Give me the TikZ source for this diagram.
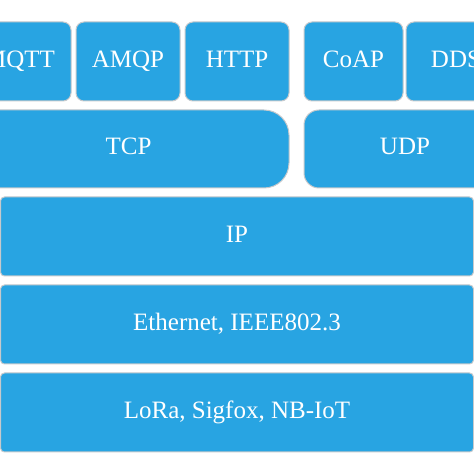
\documentclass[tikz,border=0pt]{standalone}
\usepackage{fontspec}
\setmainfont{Liberation Serif}
\usetikzlibrary{positioning}
\definecolor{layerColor}{HTML}{28A4E2}
\definecolor{edgeColor}{HTML}{C6C9CC}
\tikzset{
	layer/.style={draw=edgeColor, line width=1pt, fill=layerColor, text=white,
		font=\fontsize{25}{30}\selectfont, text height=16.5pt, text depth=5pt,
		inner sep=0, outer sep=0},
	proto/.style={layer, rounded corners=8pt, minimum height=79pt},
	link/.style={layer, rounded corners=4pt, minimum width=473pt, minimum height=79pt}
}
\begin{document}
\begin{tikzpicture}[x=1pt, y=1pt]
	\useasboundingbox (0,0) rectangle (474,474);
	\clip (0,0) rectangle (474,474);
	% application layer
	\node[proto, minimum width=103pt] (mqtt) at (19.5, 412.5) {MQTT};
	\node[proto, minimum width=104pt] (amqp) at (128, 412.5) {AMQP};
	\node[proto, minimum width=104pt] (http) at (237, 412.5) {HTTP};
	\node[proto, minimum width=99pt] (coap) at (353.5, 412.5) {CoAP};
	\node[proto, minimum width=100pt] (dds) at (456, 412.5) {DDS};
	% transport layer
	\node[layer, rounded corners=25pt, minimum width=321pt, minimum height=78pt] (tcp) at (128.5, 325) {TCP};
	\node[layer, rounded corners=15pt, minimum width=202pt, minimum height=78pt] (udp) at (405, 325) {UDP};
	% network and link layers
	\node[link] (ip) at (237, 237.5) {IP};
	\node[link] (eth) at (237, 149.5) {Ethernet, IEEE802.3};
	\node[link] (lpwan) at (237, 61.5) {LoRa, Sigfox, NB-IoT};
\end{tikzpicture}
\end{document}
